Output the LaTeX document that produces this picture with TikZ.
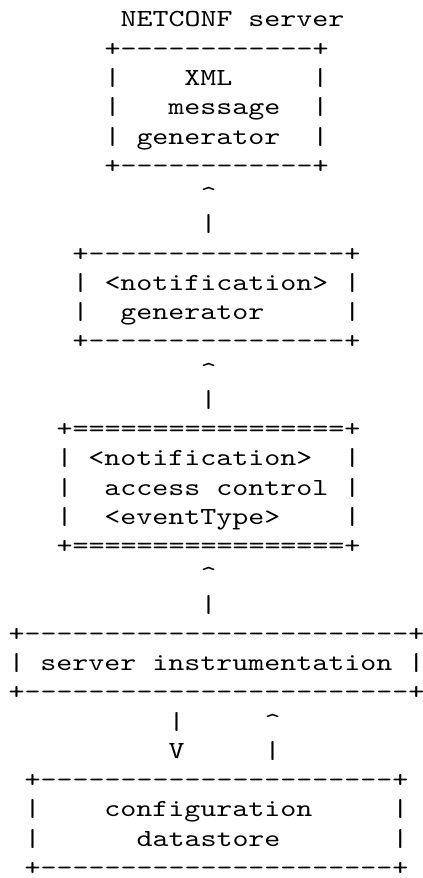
\documentclass[tikz,border=0pt]{standalone}
\usepackage{fontspec}
\setmonofont{lmmono10-regular.otf}[FakeStretch=1.242]
\newcommand\asciifont{\ttfamily\fontsize{9.2pt}{11pt}\selectfont}
\tikzset{ascii/.style={anchor=base west, inner sep=0pt, font=\asciifont}}

\begin{document}
\begin{tikzpicture}[x=6pt, y=10.97pt]
	\useasboundingbox (-0.5,-30.09) rectangle (25.875,-0.077);
	% XML message generator
	\node[ascii] (title) at (7,-1) {NETCONF\ server};
	\node[ascii] (xml-top) at (6,-2) {+------------+};
	\node[ascii] (xml-1) at (6,-3) {|\ \ \ \ XML\ \ \ \ \ |};
	\node[ascii] (xml-2) at (6,-4) {|\ \ \ message\ \ |};
	\node[ascii] (xml-3) at (6,-5) {|\ generator\ \ |};
	\node[ascii] (xml-bot) at (6,-6) {+------------+};
	\node[ascii] (up-a1) at (12,-7) {\textasciicircum};
	\node[ascii] (up-a2) at (12,-8) {|};
	% notification generator
	\node[ascii] (gen-top) at (4,-9) {+----------------+};
	\node[ascii] (gen-1) at (4,-10) {|\ <notification>\ |};
	\node[ascii] (gen-2) at (4,-11) {|\ \ generator\ \ \ \ \ |};
	\node[ascii] (gen-bot) at (4,-12) {+----------------+};
	\node[ascii] (up-b1) at (12,-13) {\textasciicircum};
	\node[ascii] (up-b2) at (12,-14) {|};
	% access control
	\node[ascii] (acc-top) at (3,-15) {+=================+};
	\node[ascii] (acc-1) at (3,-16) {|\ <notification>\ \ |};
	\node[ascii] (acc-2) at (3,-17) {|\ \ access\ control\ |};
	\node[ascii] (acc-3) at (3,-18) {|\ \ <eventType>\ \ \ \ |};
	\node[ascii] (acc-bot) at (3,-19) {+=================+};
	\node[ascii] (up-c1) at (12,-20) {\textasciicircum};
	\node[ascii] (up-c2) at (12,-21) {|};
	% server instrumentation
	\node[ascii] (inst-top) at (0,-22) {+------------------------+};
	\node[ascii] (inst-1) at (0,-23) {|\ server\ instrumentation\ |};
	\node[ascii] (inst-bot) at (0,-24) {+------------------------+};
	\node[ascii] (down-1) at (10,-25) {|};
	\node[ascii] (down-2) at (10,-26) {V};
	\node[ascii] (up-d1) at (16,-25) {\textasciicircum};
	\node[ascii] (up-d2) at (16,-26) {|};
	% configuration datastore
	\node[ascii] (ds-top) at (1,-27) {+----------------------+};
	\node[ascii] (ds-1) at (1,-28) {|\ \ \ \ configuration\ \ \ \ \ |};
	\node[ascii] (ds-2) at (1,-29) {|\ \ \ \ \ \ datastore\ \ \ \ \ \ \ |};
	\node[ascii] (ds-bot) at (1,-30) {+----------------------+};
\end{tikzpicture}
\end{document}
